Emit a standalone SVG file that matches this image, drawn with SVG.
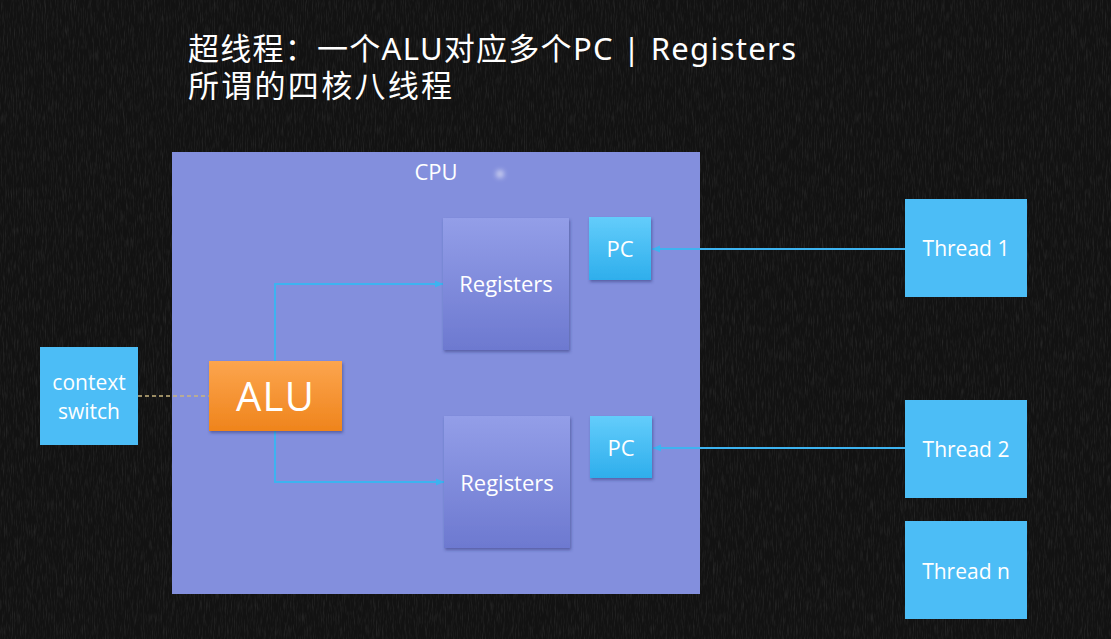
<svg xmlns="http://www.w3.org/2000/svg" width="1111" height="639" viewBox="0 0 1111 639">
  <defs>
    <style>
      .lbl { font-family: "Open Sans", "Noto Sans", "Liberation Sans", sans-serif; fill: #ffffff; text-anchor: middle; }
      .title { font-family: "Noto Sans", "Noto Sans CJK SC", sans-serif; fill: #ffffff; font-size: 31px; }
      .wire { fill: none; stroke: #3db3f0; stroke-width: 2; }
    </style>
    <linearGradient id="regGrad" x1="0" y1="0" x2="0" y2="1">
      <stop offset="0" stop-color="#939ee8"/>
      <stop offset="1" stop-color="#6d79d0"/>
    </linearGradient>
    <linearGradient id="pcGrad" x1="0" y1="0" x2="0" y2="1">
      <stop offset="0" stop-color="#63cdfb"/>
      <stop offset="1" stop-color="#2eaeec"/>
    </linearGradient>
    <linearGradient id="aluGrad" x1="0" y1="0" x2="0" y2="1">
      <stop offset="0" stop-color="#fca54e"/>
      <stop offset="1" stop-color="#ef841c"/>
    </linearGradient>
    <filter id="shadow" x="-10%" y="-10%" width="130%" height="130%">
      <feDropShadow dx="1" dy="2" stdDeviation="1.5" flood-color="#2a2f70" flood-opacity="0.5"/>
    </filter>
    <filter id="chalk" x="0" y="0" width="100%" height="100%">
      <feTurbulence type="fractalNoise" baseFrequency="0.9 0.08" numOctaves="3" seed="4" result="n"/>
      <feColorMatrix in="n" type="matrix" values="0 0 0 0 1  0 0 0 0 1  0 0 0 0 1  0 0 0 0.5 -0.22"/>
    </filter>
    <filter id="glow" x="-100%" y="-100%" width="300%" height="300%">
      <feGaussianBlur stdDeviation="2.5"/>
    </filter>
    <marker id="arrow" viewBox="0 0 9 8" refX="8" refY="4" markerWidth="9" markerHeight="8" markerUnits="userSpaceOnUse" orient="auto">
      <path d="M0,0.5 L8,4 L0,7.5 z" fill="#3db3f0"/>
    </marker>
  </defs>

  <!-- chalkboard background -->
  <rect x="0" y="0" width="1111" height="639" fill="#121212"/>
  <rect x="0" y="0" width="1111" height="639" filter="url(#chalk)" opacity="0.35"/>

  <!-- heading -->
  <text class="title" x="188" y="60" textLength="608" lengthAdjust="spacing">超线程：一个ALU对应多个PC | Registers</text>
  <text class="title" x="188" y="97" textLength="264" lengthAdjust="spacing">所谓的四核八线程</text>

  <!-- CPU container -->
  <g id="cpu">
    <rect x="172" y="152" width="528" height="442" fill="#838fdd"/>
    <text class="lbl" x="436" y="180" font-size="22">CPU</text>
    <circle cx="500" cy="174" r="4" fill="#e6e8f8" opacity="0.7" filter="url(#glow)"/>
  </g>

  <!-- connectors -->
  <g id="connectors">
    <path class="wire" d="M275,361 V284 H443" marker-end="url(#arrow)"/>
    <path class="wire" d="M275,431 V482 H444" marker-end="url(#arrow)"/>
    <path class="wire" d="M905,249 H652" marker-end="url(#arrow)"/>
    <path class="wire" d="M905,448 H653" marker-end="url(#arrow)"/>
    <path d="M138,396 H209" fill="none" stroke="#c9b57f" stroke-width="1.5" stroke-dasharray="4 3"/>
  </g>

  <g id="registers-1">
    <rect x="443" y="218" width="126" height="132" fill="url(#regGrad)" filter="url(#shadow)"/>
    <text class="lbl" x="506" y="292" font-size="22">Registers</text>
  </g>
  <g id="registers-2">
    <rect x="444" y="416" width="126" height="132" fill="url(#regGrad)" filter="url(#shadow)"/>
    <text class="lbl" x="507" y="491" font-size="22">Registers</text>
  </g>

  <g id="pc-1">
    <rect x="589" y="217" width="62" height="63" fill="url(#pcGrad)" filter="url(#shadow)"/>
    <text class="lbl" x="620" y="257" font-size="22">PC</text>
  </g>
  <g id="pc-2">
    <rect x="590" y="416" width="62" height="62" fill="url(#pcGrad)" filter="url(#shadow)"/>
    <text class="lbl" x="621" y="456" font-size="22">PC</text>
  </g>

  <g id="alu">
    <rect x="209" y="361" width="133" height="70" fill="url(#aluGrad)" filter="url(#shadow)"/>
    <text class="lbl" x="275" y="411" font-size="40" textLength="78" lengthAdjust="spacing">ALU</text>
  </g>

  <g id="context-switch">
    <rect x="40" y="347" width="98" height="98" fill="#4cbdf6"/>
    <text class="lbl" x="89" y="390" font-size="21">context</text>
    <text class="lbl" x="89" y="419" font-size="21">switch</text>
  </g>

  <g id="thread-1">
    <rect x="905" y="199" width="122" height="98" fill="#4cbdf6"/>
    <text class="lbl" x="966" y="256" font-size="21">Thread 1</text>
  </g>
  <g id="thread-2">
    <rect x="905" y="400" width="122" height="98" fill="#4cbdf6"/>
    <text class="lbl" x="966" y="457" font-size="21">Thread 2</text>
  </g>
  <g id="thread-n">
    <rect x="905" y="521" width="122" height="98" fill="#4cbdf6"/>
    <text class="lbl" x="966" y="579" font-size="21">Thread n</text>
  </g>
</svg>
